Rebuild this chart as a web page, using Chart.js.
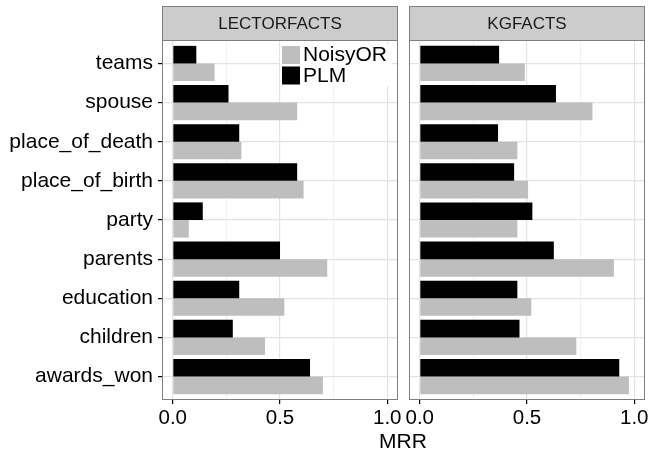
<!DOCTYPE html>
<html>
<head>
<meta charset="UTF-8">
<title>MRR</title>
<script src="https://cdn.jsdelivr.net/npm/chart.js@4.4.1/dist/chart.umd.min.js"></script>
<style>
  body { margin: 0; background: #fff; }
  #wrap { position: relative; width: 650px; height: 452px; overflow: hidden; }
  canvas { position: absolute; top: 0; }
  #xtitle {
    position: absolute; left: 353px; width: 100px; top: 430px;
    text-align: center; font: 21px "Liberation Sans", Arial, sans-serif;
    line-height: 21px; color: #000;
  }
</style>
</head>
<body>
<div id="wrap">
  <canvas id="left" width="412" height="452" style="left:0"></canvas>
  <canvas id="right" width="250" height="452" style="left:400px"></canvas>
  <div id="xtitle">MRR</div>
</div>
<script>
// data
var categories = ['teams', 'spouse', 'place_of_death', 'place_of_birth', 'party',
                  'parents', 'education', 'children', 'awards_won'];
var lectorPLM     = [0.11, 0.26, 0.31, 0.58, 0.14, 0.50, 0.31, 0.28, 0.64];
var lectorNoisyOR = [0.195, 0.58, 0.32, 0.61, 0.075, 0.72, 0.52, 0.43, 0.70];
var kgPLM         = [0.37, 0.635, 0.365, 0.44, 0.525, 0.625, 0.455, 0.465, 0.93];
var kgNoisyOR     = [0.49, 0.805, 0.455, 0.505, 0.455, 0.905, 0.52, 0.73, 0.975];
var xTicks = [0, 0.25, 0.5, 0.75, 1.0];
var xMajor = [0, 0.5, 1.0];

Chart.defaults.font.family = '"Liberation Sans", Arial, sans-serif';
Chart.defaults.color = '#000';

function toPoints(vals) {
  return vals.map(function(v, i) { return {x: v, y: i}; });
}

// strip on top, panel border, optional legend
var panelPlugin = {
  id: 'panel',
  afterDatasetsDraw: function(chart) {
    var ctx = chart.ctx, a = chart.chartArea;
    if (chart.options.plugins.panel.legend) {
      var ds = [chart.data.datasets[1], chart.data.datasets[0]];
      var x0 = a.left + 120, y0 = 46;
      ctx.save();
      ctx.fillStyle = '#fff';
      ctx.fillRect(x0 - 2, y0 - 2, 112, 42);
      ctx.font = '21px "Liberation Sans", Arial, sans-serif';
      ctx.textBaseline = 'middle';
      ds.forEach(function(d, i) {
        ctx.fillStyle = d.backgroundColor;
        ctx.fillRect(x0, y0 + i * 20.5, 18, 18);
        ctx.fillStyle = '#000';
        ctx.fillText(d.label, x0 + 21, y0 + i * 20.5 + 9.5);
      });
      ctx.restore();
    }
  },
  afterDraw: function(chart) {
    var ctx = chart.ctx, a = chart.chartArea;
    ctx.save();
    ctx.strokeStyle = '#7f7f7f';
    ctx.lineWidth = 1;
    ctx.strokeRect(a.left + 0.5, a.top + 0.5, a.right - a.left - 1, a.bottom - a.top - 1);
    ctx.fillStyle = '#cccccc';
    ctx.fillRect(a.left, 6, a.right - a.left, a.top - 6);
    ctx.strokeRect(a.left + 0.5, 6.5, a.right - a.left - 1, a.top - 6);
    ctx.fillStyle = '#1a1a1a';
    ctx.font = '17px "Liberation Sans", Arial, sans-serif';
    ctx.textAlign = 'center';
    ctx.textBaseline = 'middle';
    ctx.fillText(chart.options.plugins.panel.title, (a.left + a.right) / 2, (6 + a.top) / 2 + 1);
    ctx.restore();
  }
};

function makePanel(id, title, plm, noisy, showY, yWidth, padRight) {
  return new Chart(document.getElementById(id), {
    type: 'bar',
    data: {
      datasets: [
        { label: 'PLM', data: toPoints(plm), backgroundColor: '#000000' },
        { label: 'NoisyOR', data: toPoints(noisy), backgroundColor: '#bebebe' }
      ]
    },
    options: {
      indexAxis: 'y',
      responsive: false,
      animation: false,
      categoryPercentage: 0.9,
      barPercentage: 1,
      layout: { padding: { top: 40, right: padRight, bottom: 0, left: 0 } },
      plugins: {
        legend: { display: false },
        tooltip: { enabled: false },
        panel: { title: title, legend: showY }
      },
      scales: {
        x: {
          type: 'linear', min: -0.05, max: 1.05,
          afterBuildTicks: function(s) { s.ticks = xTicks.map(function(v) { return {value: v}; }); },
          afterFit: function(s) { s.height = 52; s.paddingLeft = 0; s.paddingRight = 0; },
          border: { display: false },
          grid: {
            color: function(c) { return xMajor.indexOf(c.tick.value) >= 0 ? '#e3e3e3' : '#f2f2f2'; },
            lineWidth: 1.2,
            tickLength: 4,
            tickColor: function(c) { return xMajor.indexOf(c.tick.value) >= 0 ? '#000' : 'rgba(0,0,0,0)'; }
          },
          ticks: {
            autoSkip: false, maxRotation: 0, padding: 2,
            font: { size: 20.5 },
            callback: function(v) { return xMajor.indexOf(v) >= 0 ? v.toFixed(1) : ''; }
          }
        },
        y: {
          type: 'linear', reverse: true, offset: false,
          min: -0.6, max: categories.length - 0.4,
          afterBuildTicks: function(s) { s.ticks = categories.map(function(c, i) { return {value: i}; }); },
          afterFit: function(s) { s.width = yWidth; s.paddingTop = 0; s.paddingBottom = 0; },
          border: { display: false },
          grid: {
            offset: false,
            color: '#e3e3e3', lineWidth: 1.2,
            drawTicks: showY, tickLength: 4, tickColor: '#000'
          },
          ticks: {
            display: showY, padding: 5,
            font: { size: 21 },
            callback: function(v) { return categories[v]; }
          }
        }
      }
    },
    plugins: [panelPlugin]
  });
}

makePanel('left', 'LECTORFACTS', lectorPLM, lectorNoisyOR, true, 162, 14);
makePanel('right', 'KGFACTS', kgPLM, kgNoisyOR, false, 9, 5);
</script>
</body>
</html>
